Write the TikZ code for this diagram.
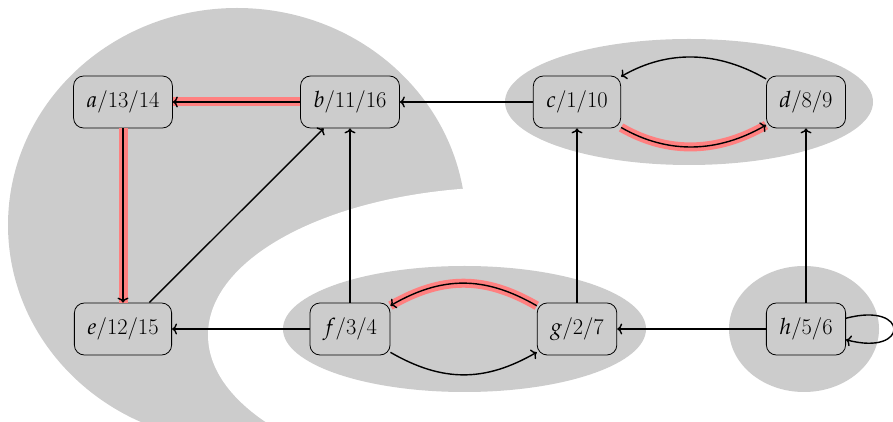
\documentclass[tikz,border=0pt]{standalone}
\usepackage{mathpazo}
\usepackage{tikz}
\usetikzlibrary{arrows.meta}
\begin{document}
\begin{tikzpicture}[x=1pt,y=1pt,
  vtx/.style={draw=black, line width=0.8pt, fill=black!20, rounded corners=10pt,
    minimum height=52pt, inner xsep=13pt, font=\fontsize{22.5}{27}\selectfont},
  edge/.style={-{To[length=5pt,width=11pt]}, line width=1.4pt, black},
  hl/.style={line width=9pt, red!50},
  blob/.style={fill=black!20}]
\useasboundingbox (0,0) rectangle (893,422);
\begin{scope}
  \clip (0,0) rectangle (893,422);
  \fill[blob] (237,197) ellipse [x radius=229pt, y radius=217pt];
  \fill[white] (510,87) ellipse [x radius=302pt, y radius=148pt];
  \fill[blob] (689,320) ellipse [x radius=184pt, y radius=63pt];
  \fill[blob] (464.5,93) ellipse [x radius=181.5pt, y radius=63pt];
  \fill[blob] (804,93) ellipse [x radius=75pt, y radius=63pt];
\end{scope}
\node[vtx] (a) at (123,320) {$a$/13/14};
\node[vtx] (b) at (350,320) {$b$/11/16};
\node[vtx] (c) at (577,320) {$c$/1/10};
\node[vtx] (d) at (806,320) {$d$/8/9};
\node[vtx] (e) at (123,93) {$e$/12/15};
\node[vtx] (f) at (350,93) {$f$/3/4};
\node[vtx] (g) at (577,93) {$g$/2/7};
\node[vtx] (h) at (806,93) {$h$/5/6};
% highlighted tree edges
\draw[hl] (b) -- (a);
\draw[hl] (a) -- (e);
\draw[hl] (c.-30) .. controls +(-30:55pt) and +(210:55pt) .. (d.210);
\draw[hl] (g.150) .. controls +(150:60pt) and +(30:60pt) .. (f.30);
% edges
\draw[edge] (b) -- (a);
\draw[edge] (a) -- (e);
\draw[edge] (e) -- (b);
\draw[edge] (f) -- (b);
\draw[edge] (c) -- (b);
\draw[edge] (f) -- (e);
\draw[edge] (g) -- (c);
\draw[edge] (h) -- (d);
\draw[edge] (h) -- (g);
\draw[edge] (c.-30) .. controls +(-30:55pt) and +(210:55pt) .. (d.210);
\draw[edge] (d.150) .. controls +(150:55pt) and +(30:55pt) .. (c.30);
\draw[edge] (g.150) .. controls +(150:60pt) and +(30:60pt) .. (f.30);
\draw[edge] (f.-30) .. controls +(-30:60pt) and +(210:60pt) .. (g.210);
\draw[edge] (h.15) .. controls +(15:66pt) and +(-15:66pt) .. (h.-15);
\end{tikzpicture}
\end{document}
